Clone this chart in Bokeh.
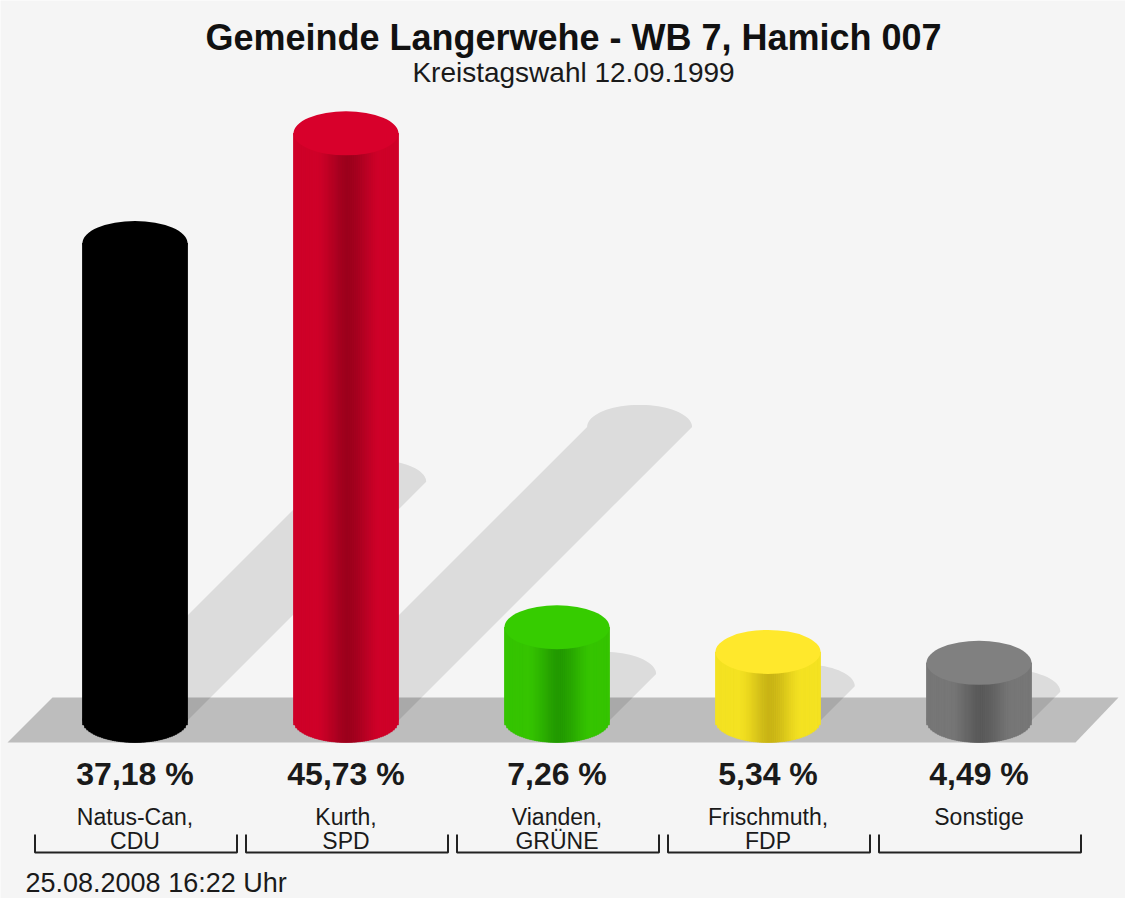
import numpy as np
from bokeh.plotting import figure
from bokeh.models import Range1d
from bokeh.core.properties import value
from bokeh.embed import file_html
from bokeh.resources import INLINE

# ---------------- data ----------------
candidates = ["Natus-Can,", "Kurth,", "Vianden,", "Frischmuth,", "Sonstige"]
parties = ["CDU", "SPD", "GRÜNE", "FDP", ""]
shares = [37.18, 45.73, 7.26, 5.34, 4.49]
title = "Gemeinde Langerwehe - WB 7, Hamich 007"
subtitle = "Kreistagswahl 12.09.1999"
footer = "25.08.2008 16:22 Uhr"

# colours: (side light, side dark, top)
light_cols = ["#000000", "#cf0029", "#35c400", "#f4e222", "#777777"]
dark_cols = ["#000000", "#9c001d", "#239a00", "#c9b416", "#5a5a5a"]
top_cols = ["#000000", "#d8002b", "#36cc00", "#ffe82c", "#808080"]

# ---------------- layout (pixels) ----------------
W, H = 1125, 898
CX0 = 134.5       # x of first category centre
DXPX = 211.0      # px per category
FLOOR = 720.0     # y of the 0 % level
PPY = 12.84       # px per percent
RADPX = 52.5
ELLPX = 22.0


def X(px):
    return (px - CX0) / DXPX


def Y(py):
    return (FLOOR - py) / PPY


A = RADPX / DXPX
B = ELLPX / PPY

p = figure(width=W, height=H, x_range=Range1d(X(0), X(W)),
           y_range=Range1d(Y(H), Y(0)), output_backend="svg",
           toolbar_location=None, min_border=0, x_axis_type=None, y_axis_type=None)
p.grid.visible = False
p.outline_line_color = None
p.background_fill_color = "#f5f5f5"
p.border_fill_color = "#f5f5f5"

FONT = value("Liberation Sans")

# floor band
p.patch([X(52), X(1118), X(1075), X(7)], [Y(697), Y(697), Y(742), Y(742)],
        fill_color="#bdbdbd", line_color=None)

n = len(shares)
xs_idx = np.arange(n)

# shadows
S = 0.5
for i, v in enumerate(shares):
    hpx = v * PPY
    tcx = i + S * hpx / DXPX
    tcy = S * v
    t = np.linspace(np.pi, 0, 40)
    px = [i - A] + list(tcx + A * np.cos(t)) + [i + A]
    py = [0] + list(tcy + B * np.sin(t)) + [0]
    p.patch(px, py, fill_color="black", fill_alpha=0.1, line_color=None)

# cylinders
NS = 50
edges = np.linspace(-1, 1, NS + 1)
cent = (edges[:-1] + edges[1:]) / 2


def mix(c1, c2, t):
    a = np.array([int(c1[k:k + 2], 16) for k in (1, 3, 5)], float)
    b = np.array([int(c2[k:k + 2], 16) for k in (1, 3, 5)], float)
    c = a + (b - a) * t
    return "#%02x%02x%02x" % tuple(int(round(x)) for x in c)


for i, v in enumerate(shares):
    p.vbar(x=[i], top=[v], bottom=[0], width=2 * A, fill_color=light_cols[i], line_color=None)
    p.ellipse(x=[i], y=[0], width=2 * A, height=2 * B, fill_color=light_cols[i], line_color=None)
    lefts = i + edges[:-1] * A
    rights = i + edges[1:] * A
    bottoms = -B * np.sqrt(np.clip(1 - cent ** 2, 0, 1))
    tt = np.clip(1 - np.abs(cent - 0.05) / 0.62, 0, 1)
    tt = tt * tt * (3 - 2 * tt)
    cols = [mix(light_cols[i], dark_cols[i], x) for x in tt]
    p.quad(left=lefts, right=rights, bottom=bottoms, top=[v] * NS,
           fill_color=cols, line_color=cols, line_width=0.6)
    p.ellipse(x=[i], y=[v], width=2 * A, height=2 * B, fill_color=top_cols[i], line_color=None)

# percentage labels
pct = [f"{v:.2f}".replace(".", ",") + " %" for v in shares]
p.text(x=xs_idx, y=[Y(773)] * n, text=pct, text_font=FONT, text_font_size=value("32px"),
       text_font_style="bold", text_align="center", text_baseline="middle", text_color="#1a1a1a")
p.text(x=xs_idx, y=[Y(816)] * n, text=candidates, text_font=FONT, text_font_size=value("23px"),
       text_align="center", text_baseline="middle", text_color="#1a1a1a")
p.text(x=xs_idx, y=[Y(840)] * n, text=parties, text_font=FONT, text_font_size=value("23px"),
       text_align="center", text_baseline="middle", text_color="#1a1a1a")

# brackets
bl = -100.0 / DXPX
br = 102.0 / DXPX
mx = [[i + bl, i + bl, i + br, i + br] for i in range(n)]
my = [[Y(834), Y(852), Y(852), Y(834)] for i in range(n)]
p.multi_line(mx, my, line_color="#222222", line_width=2)

# title, subtitle, footer
p.text(x=[X(573)], y=[Y(37)], text=[title], text_font=FONT, text_font_size=value("36px"),
       text_font_style="bold", text_align="center", text_baseline="middle", text_color="#111111")
p.text(x=[X(573)], y=[Y(72)], text=[subtitle], text_font=FONT, text_font_size=value("28px"),
       text_align="center", text_baseline="middle", text_color="#1a1a1a")
p.text(x=[X(25)], y=[Y(882)], text=[footer], text_font=FONT, text_font_size=value("27px"),
       text_align="left", text_baseline="middle", text_color="#1a1a1a")

open("out.html", "w").write(file_html(p, INLINE))
